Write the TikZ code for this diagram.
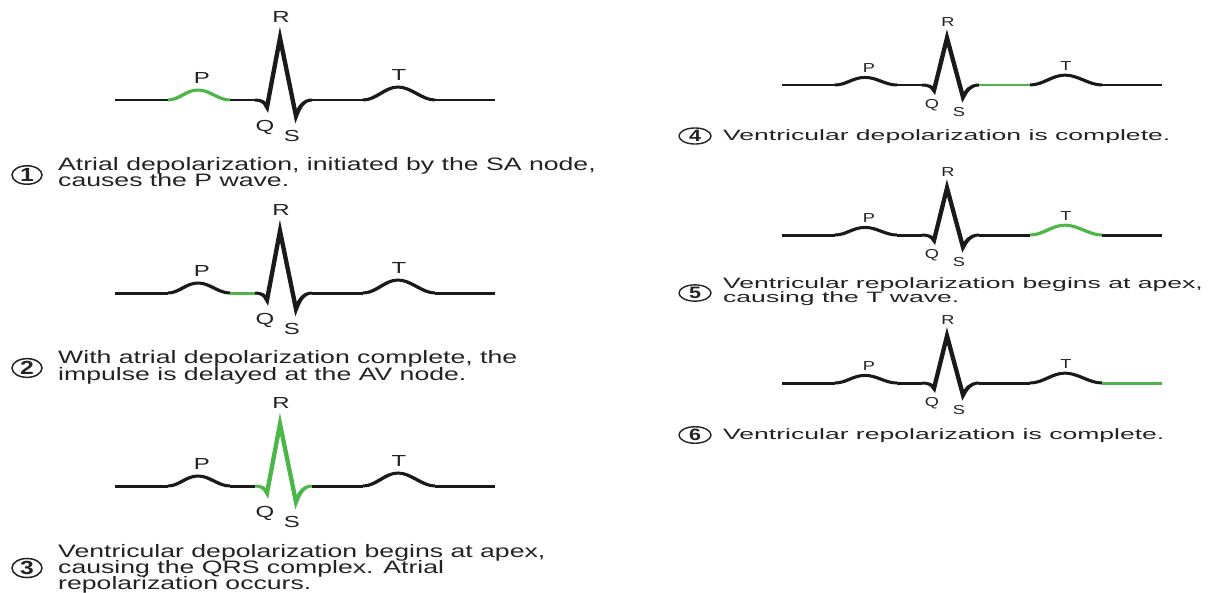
\documentclass[tikz,border=0pt]{standalone}
\usepackage{fontspec}
\setmainfont{Liberation Sans}
\usetikzlibrary{shapes.geometric}
% wide caption and label faces
\newfontfamily\capL[FakeStretch=1.48]{Liberation Sans}
\newfontfamily\capR[FakeStretch=1.77]{Liberation Sans}
\newfontfamily\lblL[FakeStretch=1.5]{Liberation Sans}
\newfontfamily\lblR[FakeStretch=1.4]{Liberation Sans}
\newfontfamily\numL[FakeStretch=1.3]{Liberation Sans}

\definecolor{ecggreen}{RGB}{76,182,72}
\definecolor{ink}{RGB}{26,26,26}
\definecolor{txt}{RGB}{35,35,35}

% squash of the trace canvas: strokes are thinner on the flat parts
\def\sq{0.68}

\tikzset{
  trace/.style={line width=4.4pt, line join=miter, miter limit=10, draw=ink},
  lbl/.style={inner sep=0pt, text=txt},
  capline/.style={anchor=base west, inner sep=0pt, text=txt},
  numL/.style={draw=txt, line width=1.5pt, ellipse, inner sep=0pt,
    minimum width=30pt, minimum height=17pt, text=txt,
    font=\numL\bfseries\fontsize{19}{19}\selectfont},
  numR/.style={draw=txt, line width=1.4pt, ellipse, inner sep=0pt,
    minimum width=32pt, minimum height=15pt, text=txt,
    font=\numL\bfseries\fontsize{16.5}{16.5}\selectfont},
}

% #1 name prefix, #2 x of left end, #3 baseline y, #4 vertical scale,
% #5 index of the highlighted segment, #6 label font
\newcommand\ecgtrace[6]{%
  \tikzset{seg1/.style={draw=ink},seg2/.style={draw=ink},seg3/.style={draw=ink},
           seg4/.style={draw=ink},seg5/.style={draw=ink},seg6/.style={draw=ink}}%
  \tikzset{seg#5/.style={draw=ecggreen}}%
  \begin{scope}[transform canvas={shift={(#2,#3)}, yscale=\sq}]
  \begin{scope}[yscale=-#4/\sq]
    \draw[trace] (0,0) -- (53,0);
    % P wave
    \draw[trace,seg1] (53,0) .. controls (64,0) and (71,10) .. (83,10)
                      .. controls (95,10) and (103,0) .. (115,0);
    % PR segment
    \draw[trace,seg2] (115,0) -- (140,0);
    % QRS complex
    \draw[trace,seg3] (140,0) .. controls (146,0) and (150,-2) .. (152,-7)
                      -- (165,62) -- (181,-16)
                      .. controls (184,-8) and (188,0) .. (197,0);
    % ST segment
    \draw[trace,seg4] (197,0) -- (248,0);
    % T wave
    \draw[trace,seg5] (248,0) .. controls (261,0) and (270,13) .. (283,13)
                      .. controls (296,13) and (307,0) .. (320,0);
    \draw[trace,seg6] (320,0) -- (380,0);
  \end{scope}
  \end{scope}
  \begin{scope}[shift={(#2,#3)}, yscale=-#4]
    \node[lbl,font=#6] (#1R) at (166,83) {R};
    \node[lbl,font=#6] (#1P) at (87,22) {P};
    \node[lbl,font=#6] (#1T) at (284,25) {T};
    \node[lbl,font=#6] (#1Q) at (150,-27) {Q};
    \node[lbl,font=#6] (#1S) at (177,-36) {S};
  \end{scope}}

\begin{document}
\begin{tikzpicture}[x=1pt,y=-1pt]
  \fill[white] (0,0) rectangle (1210,592);
  \useasboundingbox (0,0) rectangle (1210,592);

  % left column
  \ecgtrace{a}{115}{100}{1}{1}{\lblL\fontsize{16}{16}\selectfont}
  \ecgtrace{b}{115}{293}{1}{2}{\lblL\fontsize{16}{16}\selectfont}
  \ecgtrace{c}{115}{486}{1}{3}{\lblL\fontsize{16}{16}\selectfont}

  % right column
  \ecgtrace{d}{782}{85}{0.76}{4}{\lblR\fontsize{13}{13}\selectfont}
  \ecgtrace{e}{782}{235}{0.76}{5}{\lblR\fontsize{13}{13}\selectfont}
  \ecgtrace{f}{782}{383}{0.76}{6}{\lblR\fontsize{13}{13}\selectfont}

  % captions, left column
  \begin{scope}[every node/.append style={font=\capL\fontsize{18}{18}\selectfont}]
    \node[numL] (n1) at (27,175) {1};
    \node[capline] (t1a) at (58,170) {Atrial depolarization, initiated by the SA node,};
    \node[capline] (t1b) at (58,186) {causes the P wave.};
    \node[numL] (n2) at (27,368) {2};
    \node[capline] (t2a) at (58,363) {With atrial depolarization complete, the};
    \node[capline] (t2b) at (58,380) {impulse is delayed at the AV node.};
    \node[numL] (n3) at (27,568) {3};
    \node[capline] (t3a) at (58,557) {Ventricular depolarization begins at apex,};
    \node[capline] (t3b) at (58,573) {causing the QRS complex. Atrial};
    \node[capline] (t3c) at (58,589) {repolarization occurs.};
  \end{scope}

  % captions, right column
  \begin{scope}[every node/.append style={font=\capR\fontsize{15}{15}\selectfont}]
    \node[numR] (n4) at (695,136) {4};
    \node[capline] (t4a) at (723,140) {Ventricular depolarization is complete.};
    \node[numR] (n5) at (695,293) {5};
    \node[capline] (t5a) at (723,288) {Ventricular repolarization begins at apex,};
    \node[capline] (t5b) at (723,302) {causing the T wave.};
    \node[numR] (n6) at (695,435) {6};
    \node[capline] (t6a) at (723,439) {Ventricular repolarization is complete.};
  \end{scope}
\end{tikzpicture}
\end{document}
